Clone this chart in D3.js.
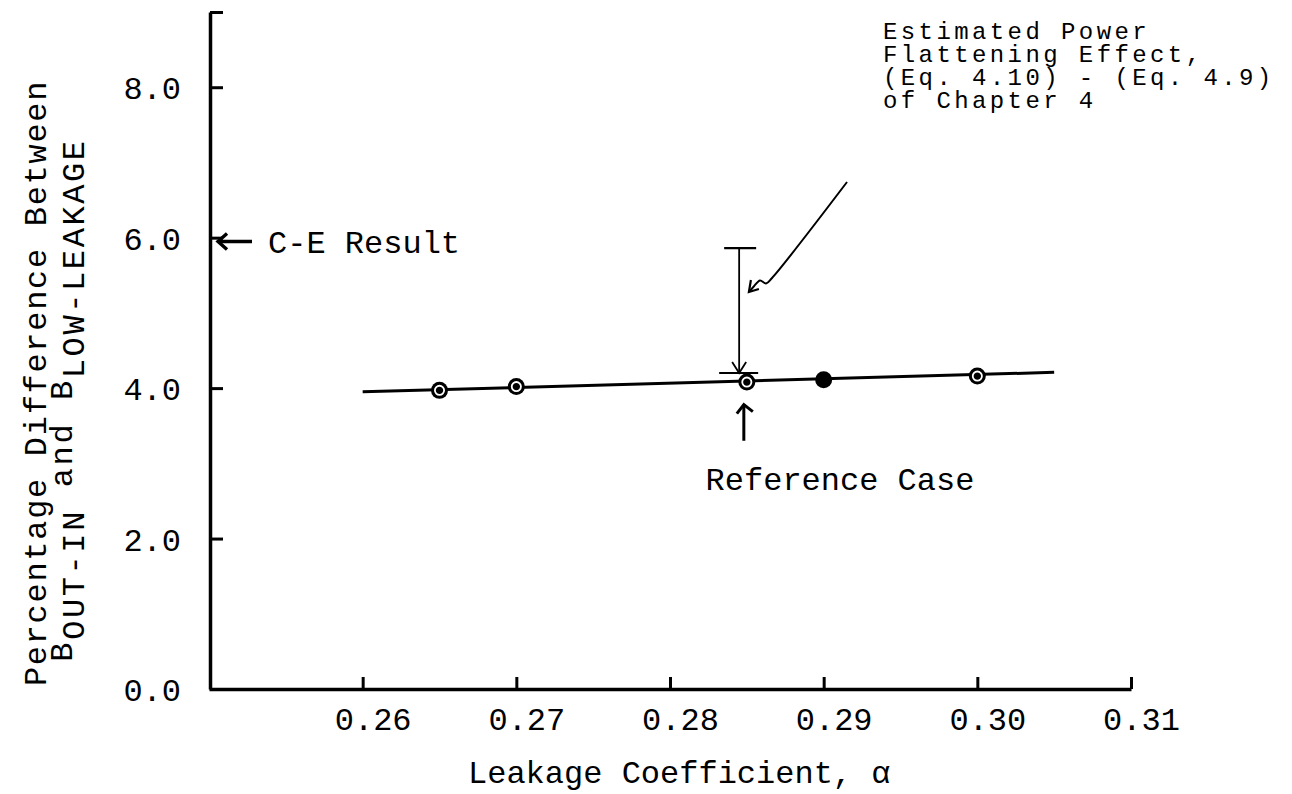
<!DOCTYPE html>
<html>
<head>
<meta charset="utf-8">
<script src="https://cdn.jsdelivr.net/npm/d3@7/dist/d3.min.js"></script>
<style>
  html, body { margin: 0; padding: 0; background: #fff; }
  svg { display: block; }
  text { font-family: "Liberation Mono", "DejaVu Sans Mono", monospace; fill: #000; }
</style>
</head>
<body>
<svg id="chart" width="1292" height="794"></svg>
<script>
// ---- data ----
const alphaValues = [0.265, 0.27, 0.285, 0.29, 0.30];
const pctDiffValues = [3.97, 4.02, 4.08, 4.11, 4.16];
const fitAlpha = [0.26, 0.305];
const fitPct = [3.95, 4.21];
const xTickValues = [0.26, 0.27, 0.28, 0.29, 0.30, 0.31];
const xTickLabels = ["0.26", "0.27", "0.28", "0.29", "0.30", "0.31"];
const yTickValues = [0, 2, 4, 6, 8, 9];
const yTickLabels = ["0.0", "2.0", "4.0", "6.0", "8.0", ""];
const ceResult = 5.95;
const refCaseAlpha = 0.285;
const refArrowPct = [3.3, 3.78];
const flatteningAlpha = 0.2845;
const flatteningRange = [4.2, 5.86];
const leaderAlpha = [0.29152, 0.28664, 0.28625, 0.28586, 0.28548, 0.28520];
const leaderPct = [6.74, 5.464, 5.391, 5.431, 5.358, 5.291];
const annotationLines = ["Estimated Power", "Flattening Effect,", "(Eq. 4.10) - (Eq. 4.9)", "of Chapter 4"];

// ---- scales ----
const svg = d3.select("#chart");
const x = d3.scaleLinear().domain([0.25, 0.31]).range([209, 1131]);
const y = d3.scaleLinear().domain([0, 9]).range([689, 12]);
const FONT = "Liberation Mono, DejaVu Sans Mono, monospace";

// ---- axes ----
const xAxis = d3.axisBottom(x).tickValues(xTickValues).tickSize(-12).tickSizeOuter(0)
  .tickFormat((d, i) => xTickLabels[i]);
const gx = svg.append("g").attr("transform", `translate(0,${y(0)})`).call(xAxis);
gx.attr("font-family", FONT).attr("font-size", 32);
gx.select(".domain").attr("stroke", "#000").attr("stroke-width", 3.5);
gx.selectAll(".tick line").attr("stroke", "#000").attr("stroke-width", 3);
gx.selectAll(".tick text").attr("dy", null).attr("y", 41).attr("x", 10).attr("fill", "#000");

const yAxis = d3.axisLeft(y).tickValues(yTickValues).tickSize(-13).tickSizeOuter(0)
  .tickFormat((d, i) => yTickLabels[i]);
const gy = svg.append("g").attr("transform", `translate(${x(0.25) + 1},0)`).call(yAxis);
gy.attr("font-family", FONT).attr("font-size", 32);
gy.select(".domain").attr("stroke", "#000").attr("stroke-width", 3.5);
gy.selectAll(".tick line").attr("stroke", "#000").attr("stroke-width", 3);
gy.selectAll(".tick text").attr("x", -29).attr("dy", "0.36em").attr("fill", "#000");

// ---- fit line ----
const fitData = fitAlpha.map((a, i) => [a, fitPct[i]]);
svg.append("path").datum(fitData)
  .attr("d", d3.line().x(d => x(d[0])).y(d => y(d[1])))
  .attr("fill", "none").attr("stroke", "#000").attr("stroke-width", 3);

// ---- points ----
const pts = svg.append("g").selectAll("g").data(alphaValues.map((a, i) => [a, pctDiffValues[i]]))
  .join("g").attr("transform", d => `translate(${x(d[0])},${y(d[1])})`);
pts.append("circle").attr("r", 8.5).attr("fill", "#000");
pts.append("circle").attr("r", 4.6).attr("fill", "none").attr("stroke", "#fff").attr("stroke-width", 1.8)
  .attr("opacity", (d, i) => i === 3 ? 0 : 1);

// ---- flattening effect bar ----
const fx = x(flatteningAlpha);
const fTop = y(flatteningRange[1]), fBot = y(flatteningRange[0]);
const fb = svg.append("g").attr("stroke", "#000").attr("fill", "none");
fb.append("line").attr("x1", fx).attr("x2", fx).attr("y1", fTop).attr("y2", fBot).attr("stroke-width", 1.8);
fb.append("line").attr("x1", fx - 15).attr("x2", fx + 17).attr("y1", fTop).attr("y2", fTop).attr("stroke-width", 2.2);
fb.append("line").attr("x1", fx - 20).attr("x2", fx + 19).attr("y1", fBot).attr("y2", fBot).attr("stroke-width", 2);
fb.append("path").attr("d", `M${fx - 7},${fBot - 11} L${fx},${fBot} L${fx + 7},${fBot - 11}`).attr("stroke-width", 1.8);

// ---- leader curve ----
const leaderData = leaderAlpha.map((a, i) => [x(a), y(leaderPct[i])]);
svg.append("path").datum(leaderData)
  .attr("d", d3.line().curve(d3.curveCatmullRom.alpha(0.5)))
  .attr("fill", "none").attr("stroke", "#000").attr("stroke-width", 2);
const le = leaderData[leaderData.length - 1];
svg.append("path")
  .attr("d", `M${le[0] + 1},${le[1] - 11} L${le[0] - 1},${le[1] + 1} L${le[0] + 9},${le[1] - 2}`)
  .attr("fill", "none").attr("stroke", "#000").attr("stroke-width", 2.2);

// ---- reference case arrow ----
const rx = x(refCaseAlpha) - 3;
const rTop = y(refArrowPct[1]);
svg.append("line").attr("x1", rx).attr("x2", rx).attr("y1", y(refArrowPct[0])).attr("y2", rTop)
  .attr("stroke", "#000").attr("stroke-width", 3);
svg.append("path").attr("d", `M${rx - 7},${rTop + 9} L${rx},${rTop} L${rx + 9},${rTop + 7}`)
  .attr("fill", "none").attr("stroke", "#000").attr("stroke-width", 3);
svg.append("text").attr("x", 840).attr("y", 490).attr("text-anchor", "middle")
  .attr("font-size", 32).text("Reference Case");

// ---- C-E result ----
const cy = y(ceResult);
const ax0 = x(0.25) + 1;
svg.append("line").attr("x1", ax0 + 9).attr("x2", ax0 + 42).attr("y1", cy).attr("y2", cy)
  .attr("stroke", "#000").attr("stroke-width", 3.4);
svg.append("path").attr("d", `M${ax0 + 17},${cy - 8} L${ax0 + 8},${cy} L${ax0 + 17},${cy + 8}`)
  .attr("fill", "none").attr("stroke", "#000").attr("stroke-width", 3.4);
svg.append("text").attr("x", 268).attr("y", cy + 12).attr("font-size", 32).text("C-E Result");

// ---- annotation block ----
svg.append("g").selectAll("text").data(annotationLines).join("text")
  .attr("x", 883).attr("y", (d, i) => 39 + i * 23)
  .attr("font-size", 24).attr("letter-spacing", 3.4)
  .style("white-space", "pre").text(d => d);

// ---- axis titles ----
svg.append("text").attr("x", 468).attr("y", 783).attr("font-size", 32).text("Leakage Coefficient, \u03b1");

svg.append("text").attr("transform", "translate(46,383) rotate(-90)")
  .attr("text-anchor", "middle").attr("font-size", 32).attr("letter-spacing", 1.7)
  .text("Percentage Difference Between");

const t2 = svg.append("text").attr("transform", "translate(72,400) rotate(-90)")
  .attr("text-anchor", "middle").attr("font-size", 32).attr("letter-spacing", 2.6);
t2.append("tspan").text("B");
t2.append("tspan").attr("dy", 12).text("OUT-IN");
t2.append("tspan").attr("dy", -12).style("white-space", "pre").text(" and B");
t2.append("tspan").attr("dy", 12).text("LOW-LEAKAGE");
</script>
</body>
</html>
